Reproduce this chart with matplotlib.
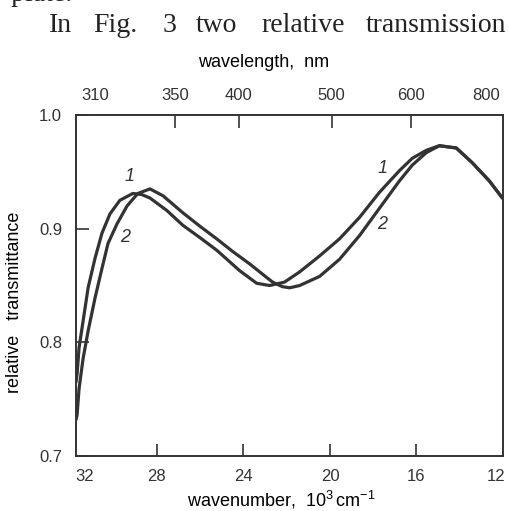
import matplotlib
matplotlib.use("Agg")
import matplotlib.pyplot as plt

# curve 1 and curve 2 (wavenumber in 10^3 cm^-1, relative transmittance)
k1 = [31.74, 31.69, 31.60, 31.41, 31.18, 30.86, 30.54, 30.17, 29.71, 29.11, 28.70,
      28.32, 27.54, 26.80, 26.00, 25.23, 24.17, 23.39, 22.79, 22.10, 21.40, 20.48,
      19.56, 18.63, 17.71, 16.79, 16.19, 15.54, 14.94, 14.16, 13.42, 12.63, 12.03]
v1 = [0.765, 0.772, 0.795, 0.819, 0.848, 0.874, 0.896, 0.913, 0.925, 0.931, 0.930,
      0.927, 0.916, 0.903, 0.892, 0.881, 0.863, 0.852, 0.850, 0.853, 0.862, 0.876,
      0.891, 0.910, 0.932, 0.951, 0.962, 0.969, 0.973, 0.971, 0.958, 0.942, 0.927]

k2 = [31.74, 31.69, 31.60, 31.41, 31.18, 30.86, 30.54, 30.26, 29.85, 29.38, 28.88,
      28.32, 27.72, 26.80, 26.00, 25.23, 24.50, 23.71, 22.92, 22.65, 22.20, 21.86,
      21.40, 20.48, 19.56, 18.63, 17.71, 16.79, 16.19, 15.54, 14.94, 14.16, 13.42,
      12.63, 12.03]
v2 = [0.732, 0.736, 0.759, 0.786, 0.810, 0.839, 0.865, 0.887, 0.904, 0.920, 0.931,
      0.935, 0.929, 0.914, 0.902, 0.891, 0.880, 0.869, 0.857, 0.853, 0.849, 0.848,
      0.850, 0.858, 0.873, 0.894, 0.918, 0.942, 0.956, 0.967, 0.973, 0.971, 0.958,
      0.942, 0.927]

# bottom axis ticks
wn_ticks = [28, 24, 20, 16]
wn_edge_pos = [31.32, 12.3]
wn_edge_labels = ['32', '12']
# top axis ticks as drawn on the original figure (positions in wavenumber units)
wl_tick_pos = [27.17, 24.22, 19.92, 16.23]
wl_tick_labels = ['350', '400', '500', '600']
wl_edge_pos = [30.86, 12.77]
wl_edge_labels = ['310', '800']
y_ticks = [0.7, 0.8, 0.9, 1.0]

# words of the page text above the figure and their left edges (pixels)
head_words = ['In', 'Fig.', '3', 'two', 'relative', 'transmission']
head_x = [49, 93, 163, 196, 261, 366]

ink = '#333333'
plt.rcParams['font.family'] = ['Liberation Sans', 'DejaVu Sans']
plt.rcParams['mathtext.fontset'] = 'custom'
plt.rcParams['mathtext.rm'] = 'Liberation Sans'
plt.rcParams['text.color'] = ink

fig = plt.figure(figsize=(5.09, 5.11), dpi=100)
ax = fig.add_axes([0.1493, 0.1076, 0.8389, 0.6673])

ax.plot(k1, v1, color=ink, lw=2.3, solid_joinstyle='round', solid_capstyle='round')
ax.plot(k2, v2, color=ink, lw=2.3, solid_joinstyle='round', solid_capstyle='round')

ax.set_xlim(31.74, 12.0)
ax.set_ylim(0.7, 1.0)
for s in ax.spines.values():
    s.set_color(ink)
    s.set_linewidth(1.2)

ax.set_xticks(wn_ticks, labels=[str(t) for t in wn_ticks])
ax.set_xticks(wn_edge_pos, labels=wn_edge_labels, minor=True)
ax.set_yticks(y_ticks, labels=[f'{t:.1f}' for t in y_ticks])
ax.tick_params(axis='x', which='major', direction='in', length=9, width=1.2, color=ink,
               pad=9, labelsize=12, labelcolor=ink)
ax.tick_params(axis='x', which='minor', length=0, pad=9, labelsize=12, labelcolor=ink)
ax.tick_params(axis='y', direction='in', length=9, width=1.2, color=ink, pad=10,
               labelsize=12, labelcolor=ink)

ax.set_xlabel('wavenumber,  $10^3\\,$cm$^{-1}$', fontsize=13)
ax.xaxis.set_label_coords(0.482, -0.097)
ax.set_ylabel('relative   transmittance', fontsize=13)
ax.yaxis.set_label_coords(-0.124, 0.452)

top = ax.twiny()
top.set_xlim(ax.get_xlim())
top.set_xticks(wl_tick_pos, labels=wl_tick_labels)
top.set_xticks(wl_edge_pos, labels=wl_edge_labels, minor=True)
top.tick_params(axis='x', which='major', direction='in', length=9, width=1.2, color=ink,
                pad=9, labelsize=12, labelcolor=ink)
top.tick_params(axis='x', which='minor', length=0, pad=9, labelsize=12, labelcolor=ink)
top.set_xlabel('wavelength,  nm', fontsize=13)
top.xaxis.set_label_coords(0.44, 1.141)
for s in top.spines.values():
    s.set_color(ink)
    s.set_linewidth(1.2)

# curve numbers
ax.text(29.25, 0.946, '1', style='italic', fontsize=13, ha='center', va='center')
ax.text(29.48, 0.892, '2', style='italic', fontsize=13, ha='center', va='center')
ax.text(17.57, 0.953, '1', style='italic', fontsize=13, ha='center', va='center')
ax.text(17.57, 0.904, '2', style='italic', fontsize=13, ha='center', va='center')

# surrounding text of the scanned page
fig.text(72 / 509, 1 - 1 / 511, 'KCl  plate.', family='Liberation Serif', fontsize=20,
         ha='right', va='baseline', color='#222222')
for w, x in zip(head_words, head_x):
    fig.text(x / 509, 1 - 32 / 511, w, family='Liberation Serif', fontsize=20,
             ha='left', va='baseline', color='#222222')

fig.savefig('out.png', dpi=100)
